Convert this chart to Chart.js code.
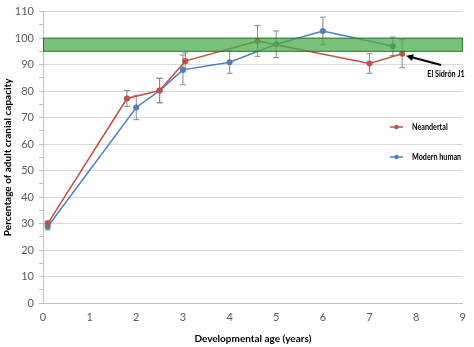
<!DOCTYPE html>
<html>
<head>
<meta charset="utf-8">
<script src="https://cdn.jsdelivr.net/npm/chart.js@4.4.1/dist/chart.umd.min.js"></script>
<style>
  html, body { margin: 0; padding: 0; background: #fff; }
  #wrap { width: 474px; height: 347px; position: relative; }
</style>
</head>
<body>
<div id="wrap"><canvas id="c"></canvas></div>
<script>
// Neandertal growth sample: age (years), % of adult cranial capacity, ± error
const neandAge = [0.1, 1.8, 2.5, 3.05, 4.6, 7.0, 7.7];
const neandPct = [30.0, 77.2, 80.2, 91.3, 98.9, 90.4, 94.1];
const neandErr = [1.0, 3.0, 4.6, 3.1, 5.8, 3.7, 5.3];

// Modern human reference sample
const modAge = [0.1, 2.0, 2.5, 3.0, 4.0, 5.0, 6.0, 7.5];
const modPct = [28.8, 73.8, 80.2, 88.0, 90.9, 97.7, 102.7, 96.9];
const modErr = [1.2, 4.6, 4.6, 5.6, 4.2, 5.0, 5.2, 3.5];

// Adult range band (% of adult capacity)
const adultBand = [95, 100];

const xTicks = [0, 1, 2, 3, 4, 5, 6, 7, 8, 9];
const yTicks = [0, 10, 20, 30, 40, 50, 60, 70, 80, 90, 100, 110];

const seriesNames = ['Neandertal', 'Modern human'];
const annotationText = 'El Sidrón J1';

const FONT = 'Lato, "Open Sans", sans-serif';
const RED = '#c0504d';
const BLUE = '#4f81bd';

const toPoints = (xs, ys) => xs.map((x, i) => ({ x: x, y: ys[i] }));

// Horizontally condensed text for the small labels
function narrowText(ctx, text, x, y, align) {
  const k = 0.8;
  ctx.save();
  ctx.translate(x, y);
  ctx.scale(k, 1);
  ctx.textAlign = align;
  ctx.fillText(text, 0, 0);
  ctx.restore();
}

// Vertical error bars with caps, drawn below the lines
const errorBars = {
  id: 'errorBars',
  beforeDatasetsDraw(chart) {
    const { ctx, scales: { x, y } } = chart;
    ctx.save();
    ctx.strokeStyle = '#8a8a8a';
    ctx.lineWidth = 1;
    chart.data.datasets.forEach(ds => {
      if (!ds.errors) return;
      ds.data.forEach((p, i) => {
        const e = ds.errors[i];
        const px = x.getPixelForValue(p.x);
        const top = y.getPixelForValue(p.y + e);
        const bot = y.getPixelForValue(p.y - e);
        ctx.beginPath();
        ctx.moveTo(px, top); ctx.lineTo(px, bot);
        ctx.moveTo(px - 3, top); ctx.lineTo(px + 3, top);
        ctx.moveTo(px - 3, bot); ctx.lineTo(px + 3, bot);
        ctx.stroke();
      });
    });
    ctx.restore();
  }
};

// Translucent adult band, legend, and the labelled arrow
const overlay = {
  id: 'overlay',
  afterDatasetsDraw(chart) {
    const { ctx, chartArea: a, scales: { x, y } } = chart;
    ctx.save();
    const yTop = y.getPixelForValue(adultBand[1]);
    const yBot = y.getPixelForValue(adultBand[0]);
    ctx.fillStyle = 'rgba(70,170,70,0.72)';
    ctx.fillRect(a.left, yTop, a.right - a.left, yBot - yTop);
    ctx.strokeStyle = 'rgba(30,110,30,0.9)';
    ctx.lineWidth = 1;
    ctx.strokeRect(a.left + 0.5, yTop, a.right - a.left - 1, yBot - yTop);

    // legend
    const items = [{ y: 127 }, { y: 157 }];
    ctx.font = 'bold 9px ' + FONT;
    ctx.textBaseline = 'middle';
    chart.data.datasets.forEach((ds, i) => {
      const ly = items[i].y;
      ctx.strokeStyle = ds.borderColor;
      ctx.lineWidth = 1.5;
      ctx.beginPath();
      ctx.moveTo(390, ly); ctx.lineTo(403, ly);
      ctx.stroke();
      ctx.fillStyle = ds.borderColor;
      ctx.beginPath();
      ctx.arc(396.5, ly, 2.2, 0, Math.PI * 2);
      ctx.fill();
      ctx.fillStyle = '#000';
      narrowText(ctx, ds.label, 412, ly, 'left');
    });

    // arrow to the El Sidrón J1 point
    const last = chart.data.datasets[0].data[neandAge.length - 1];
    const tx = x.getPixelForValue(last.x) + 4;
    const ty = y.getPixelForValue(last.y) + 2;
    const sx = 441, sy = 65;
    const ang = Math.atan2(ty - sy, tx - sx);
    ctx.strokeStyle = '#000';
    ctx.fillStyle = '#000';
    ctx.lineWidth = 2;
    ctx.beginPath();
    ctx.moveTo(sx, sy);
    ctx.lineTo(tx - 5 * Math.cos(ang), ty - 5 * Math.sin(ang));
    ctx.stroke();
    ctx.beginPath();
    ctx.moveTo(tx, ty);
    ctx.lineTo(tx - 7 * Math.cos(ang) + 3.5 * Math.sin(ang), ty - 7 * Math.sin(ang) - 3.5 * Math.cos(ang));
    ctx.lineTo(tx - 7 * Math.cos(ang) - 3.5 * Math.sin(ang), ty - 7 * Math.sin(ang) + 3.5 * Math.cos(ang));
    ctx.closePath();
    ctx.fill();
    ctx.font = 'bold 9px ' + FONT;
    narrowText(ctx, annotationText, 446, 74, 'center');
    ctx.restore();
  }
};

new Chart(document.getElementById('c'), {
  type: 'line',
  data: {
    datasets: [
      {
        label: seriesNames[0],
        data: toPoints(neandAge, neandPct),
        errors: neandErr,
        borderColor: RED,
        backgroundColor: RED,
        borderWidth: 1.5,
        pointRadius: 2.3,
        pointHoverRadius: 2.3,
        tension: 0
      },
      {
        label: seriesNames[1],
        data: toPoints(modAge, modPct),
        errors: modErr,
        borderColor: BLUE,
        backgroundColor: BLUE,
        borderWidth: 1.5,
        pointRadius: 2.3,
        pointHoverRadius: 2.3,
        tension: 0
      }
    ]
  },
  options: {
    responsive: true,
    maintainAspectRatio: false,
    animation: false,
    layout: { padding: { top: 7, right: 11, left: 0, bottom: 0 } },
    plugins: { legend: { display: false }, tooltip: { enabled: false } },
    scales: {
      x: {
        type: 'linear',
        min: xTicks[0],
        max: xTicks[xTicks.length - 1],
        afterBuildTicks: s => { s.ticks = xTicks.map(v => ({ value: v })); },
        afterFit: s => { s.height = 44; },
        grid: { display: false, drawTicks: false },
        border: { display: true, color: '#bfbfbf', width: 1 },
        ticks: { color: '#595959', font: { family: FONT, size: 11 }, padding: 8, maxRotation: 0 },
        title: {
          display: true,
          text: 'Developmental age (years)',
          color: '#000',
          font: { family: FONT, size: 10, weight: 'bold' },
          padding: { top: 0, bottom: 2 }
        }
      },
      y: {
        min: 0,
        max: 110,
        afterBuildTicks: s => {
          const t = [];
          for (let v = 0; v <= 110; v += 5) t.push({ value: v });
          s.ticks = t;
        },
        afterFit: s => { s.width = 43; },
        grid: {
          color: c => (c.tick && c.tick.value % 10 === 0) ? '#d9d9d9' : 'rgba(0,0,0,0)',
          tickColor: '#bfbfbf',
          tickLength: 4,
          drawTicks: true
        },
        border: { display: true, color: '#bfbfbf', width: 1 },
        ticks: {
          color: '#595959',
          font: { family: FONT, size: 11 },
          padding: 5,
          autoSkip: false,
          callback: v => (yTicks.includes(v) ? String(v) : '')
        },
        title: {
          display: true,
          text: 'Percentage of adult cranial capacity',
          color: '#000',
          font: { family: FONT, size: 10, weight: 'bold' },
          padding: { top: 2, bottom: 0 }
        }
      }
    }
  },
  plugins: [errorBars, overlay]
});
</script>
</body>
</html>
